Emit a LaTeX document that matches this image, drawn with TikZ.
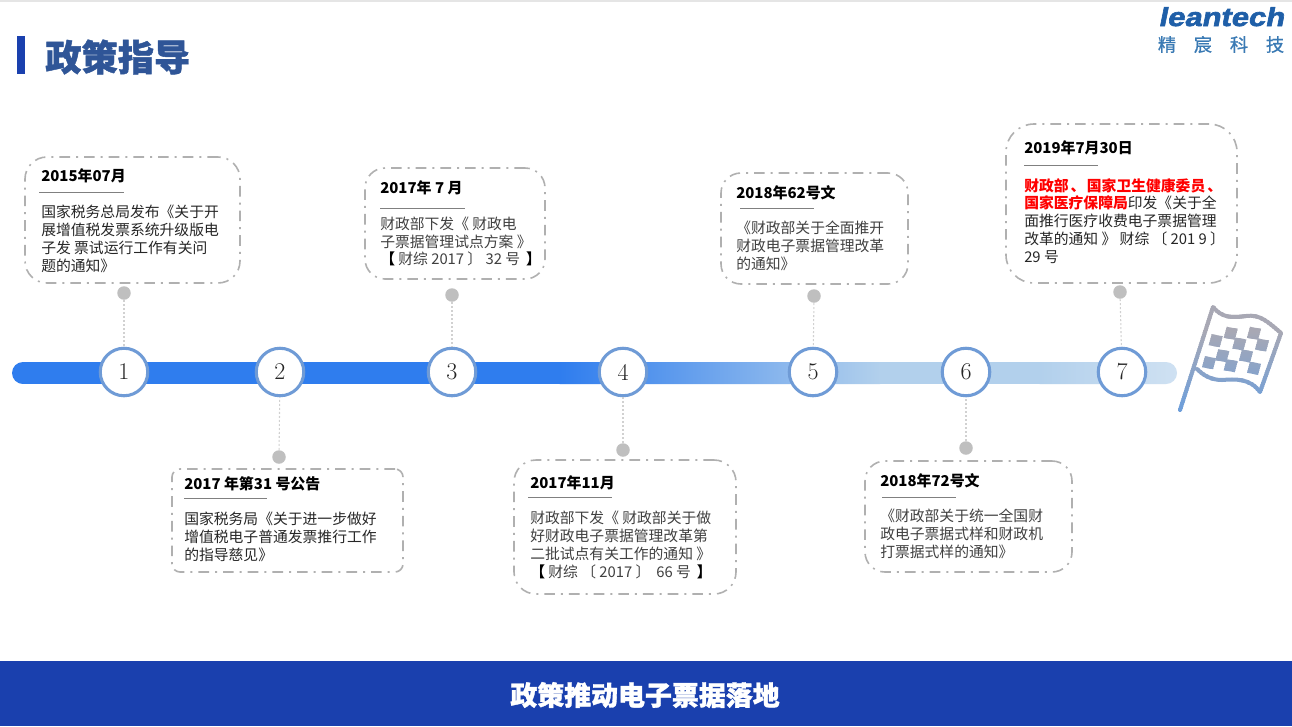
\documentclass[tikz,border=0pt]{standalone}
\usepackage{fontspec}
\setmainfont{Noto Sans CJK SC}
\newfontfamily\logofont[BoldFeatures={FakeBold=2.5,FakeStretch=1.19,FakeSlant=0.2}]{Liberation Sans}
\newfontfamily\logocjk[FakeBold=0.6]{Noto Sans CJK SC}
\newfontfamily\heavycjk[BoldFeatures={FakeBold=1.2}]{Noto Sans CJK SC}
\newfontfamily\numfont{Latin Modern Roman}
\usetikzlibrary{calc}
\definecolor{barblue}{HTML}{2F7DEE}
\definecolor{barmid}{HTML}{B2D0EC}
\definecolor{barend}{HTML}{CFE1F2}
\definecolor{ringblue}{HTML}{6F9BD6}
\definecolor{boxgray}{HTML}{B0B0B0}
\definecolor{dotgray}{HTML}{BFBFBF}
\definecolor{titleblue}{HTML}{2F5597}
\definecolor{navy}{HTML}{1A40AE}
\definecolor{logoblue}{HTML}{1F5FA8}
\definecolor{logoblue2}{HTML}{3A7AB4}
\definecolor{bodydark}{HTML}{262626}
\definecolor{bodygray}{HTML}{404040}
\definecolor{flagtop}{HTML}{A8A8B4}
\definecolor{flagbot}{HTML}{6F9FDA}
\newcommand{\blackbr}[1]{\textcolor{black}{\bfseries #1}}
\tikzset{
  x=0.75pt,y=-0.75pt,
  infobox/.style={draw=boxgray,line width=1.2pt,fill=white,dash pattern=on 8pt off 4.5pt on 1.5pt off 4.5pt},
  numring/.style={circle,draw=ringblue,line width=2.3pt,fill=white,minimum size=47.5*0.75pt,inner sep=0pt,font=\numfont\fontsize{18}{18}\selectfont,text=black!85},
  stemdot/.style={circle,fill=dotgray,minimum size=13.5*0.75pt,inner sep=0pt},
  stem/.style={draw=black!18,line width=0.8pt,dash pattern=on 1.5pt off 1.5pt},
  head/.style={anchor=west,inner sep=0pt,font=\fontsize{11.2}{13}\selectfont\bfseries,text=black},
  body/.style={anchor=north west,inner sep=0pt,align=left,font=\fontsize{11.1}{13.35}\selectfont,text=bodydark},
  rule/.style={draw=black!50,line width=0.6pt},
}
\begin{document}
\begin{tikzpicture}
\useasboundingbox (0,0) rectangle (1292,726);
\fill[white] (0,0) rectangle (1292,726);
\fill[black!10] (0,0) rectangle (1292,1.5);
% header
\fill[navy] (17,36) rectangle (25,74);
\node[anchor=west,inner sep=0pt,font=\heavycjk\fontsize{27.2}{27}\selectfont\bfseries,text=titleblue] (title) at (45,57) {政策指导};
\node[anchor=base west,inner sep=0pt,font=\logofont\fontsize{19.5}{20}\selectfont\bfseries,text=logoblue] (logo) at (1158,26) {leantech};
\foreach \n/\x/\t in {a/1167/精,b/1203/宸,c/1239/科,d/1275/技}
  \node[inner sep=0pt,font=\logocjk\fontsize{13.7}{14}\selectfont,text=logoblue2] (logo\n) at (\x,44.5) {\t};
% timeline bar
\begin{scope}
  \clip[rounded corners=11*0.75pt] (12,362) rectangle (1177,384);
  \fill[barblue] (12,362) rectangle (560,384);
  \shade[left color=barblue,right color=barmid] (559.5,362) rectangle (880,384);
  \fill[barmid] (879.5,362) rectangle (1040,384);
  \shade[left color=barmid,right color=barend] (1039.5,362) rectangle (1177,384);
\end{scope}
% numbered rings
\foreach \n/\x in {1/124,2/280,3/452,4/623,5/813,6/966,7/1122}
  \node[numring] (c\n) at (\x,372) {\n};
% dots
\foreach \n/\x/\y in {1/124/293,2/279/457,3/452/295,4/623/450,5/814/296,6/966/448,7/1120/292}
  \node[stemdot] (d\n) at (\x,\y) {};
\foreach \n in {1,...,7} \draw[stem] (d\n) -- (c\n);
% cards
\node[infobox,rounded corners=22*0.75pt,minimum width=215*0.75pt,minimum height=126*0.75pt,inner sep=0pt] (b1) at (132.5,220) {};
\node[infobox,rounded corners=20*0.75pt,minimum width=180*0.75pt,minimum height=111*0.75pt,inner sep=0pt] (b3) at (455,223.5) {};
\node[infobox,rounded corners=20*0.75pt,minimum width=187*0.75pt,minimum height=111*0.75pt,inner sep=0pt] (b5) at (814.5,228.5) {};
\node[infobox,rounded corners=28*0.75pt,minimum width=231*0.75pt,minimum height=159*0.75pt,inner sep=0pt] (b7) at (1121.5,203.5) {};
\node[infobox,rounded corners=8*0.75pt,minimum width=231*0.75pt,minimum height=103*0.75pt,inner sep=0pt] (b2) at (287.5,520.5) {};
\node[infobox,rounded corners=22*0.75pt,minimum width=222*0.75pt,minimum height=134*0.75pt,inner sep=0pt] (b4) at (625,527) {};
\node[infobox,rounded corners=20*0.75pt,minimum width=207*0.75pt,minimum height=111*0.75pt,inner sep=0pt] (b6) at (968.5,516.5) {};
% card 1
\node[head] (h1) at (41,176) {2015年07月};
\draw[rule] (39,192.5) -- (124,192.5);
\node[body] (t1) at (41,205) {国家税务总局发布《关于开\\展增值税发票系统升级版电\\子发 票试运行工作有关问\\题的通知》};
% card 2
\node[head] (h2) at (184,484) {2017 年第31 号公告};
\draw[rule] (184,498.5) -- (267,498.5);
\node[body] (t2) at (184,512) {国家税务局《关于进一步做好\\增值税电子普通发票推行工作\\的指导慈见》};
% card 3
\node[head] (h3) at (380,188) {2017年 7 月};
\draw[rule] (380,208.5) -- (465,208.5);
\node[body,text=bodygray] (t3) at (380,216.5) {财政部下发《 财政电\\子票据管理试点方案 》\\\blackbr{【} 财综 2017 〕 32 号\hspace{2pt} \blackbr{】}};
% card 4
\node[head] (h4) at (530,483) {2017年11月};
\draw[rule] (528,497.5) -- (612,497.5);
\node[body,text=bodygray] (t4) at (530,511) {财政部下发《 财政部关于做\\好财政电子票据管理改革第\\二批试点有关工作的通知 》\\\blackbr{【} 财综 〔 2017 〕\hspace{2pt} 66 号\hspace{2pt} \blackbr{】}};
% card 5
\node[head] (h5) at (736,193) {2018年62号文};
\draw[rule] (740,208.5) -- (814,208.5);
\node[body,text=bodygray] (t5) at (736,221) {《财政部关于全面推开\\财政电子票据管理改革\\的通知》};
% card 6
\node[head] (h6) at (880,481) {2018年72号文};
\draw[rule] (882,497.5) -- (956,497.5);
\node[body,text=bodygray] (t6) at (880,509) {《财政部关于统一全国财\\政电子票据式样和财政机\\打票据式样的通知》};
% card 7
\node[head] (h7) at (1024,148) {2019年7月30日};
\draw[rule] (1024,165) -- (1098,165);
\node[body] (t7) at (1024,178) {\textcolor{red}{\bfseries 财政部\hspace{-1pt} 、\hspace{-1.5pt} 国家卫生健康委员\hspace{-1pt} 、}\\\textcolor{red}{\bfseries 国家医疗保障局}印发《关于全\\面推行医疗收费电子票据管理\\改革的通知 》 财综 〔 201 9 〕\\29 号};
% flag, painted in thin horizontal bands for its vertical gradient
\foreach \yy in {304,306,...,412} {
  \pgfmathtruncatemacro{\mixval}{max(0,min(100,(\yy-330)*100/75))}
  \colorlet{flagnow}{flagbot!\mixval!flagtop}
  \begin{scope}
    \clip (1170,\yy) rectangle (1292,\yy+2.4);
    \draw[flagnow,line width=3pt,line cap=round,line join=round]
      (1180,410) -- (1213,307)
      .. controls (1222,318) and (1232,318) .. (1246,316)
      .. controls (1260,314) and (1268,322) .. (1281,333)
      -- (1260,392)
      .. controls (1250,378) and (1235,379) .. (1222,380)
      .. controls (1212,380) and (1204,376) .. (1197,369);
    \foreach \cx/\cy in {1230.7/333.3,1254/333.3,1215.7/340.7,1239.3/344,1262/345,1222.3/355.7,1246/356,1209/362.7,1230.7/365.7,1254/368.3}
      \fill[flagnow] (\cx-4,\cy-6.5) -- (\cx+7,\cy-4.5) -- (\cx+4,\cy+6.5) -- (\cx-7,\cy+4.5) -- cycle;
  \end{scope}
}
% footer
\fill[navy] (0,661) rectangle (1292,726);
\node[inner sep=0pt,font=\heavycjk\fontsize{20.2}{20}\selectfont\bfseries,text=white] (foot) at (645,695) {政策推动电子票据落地};
\end{tikzpicture}
\end{document}
